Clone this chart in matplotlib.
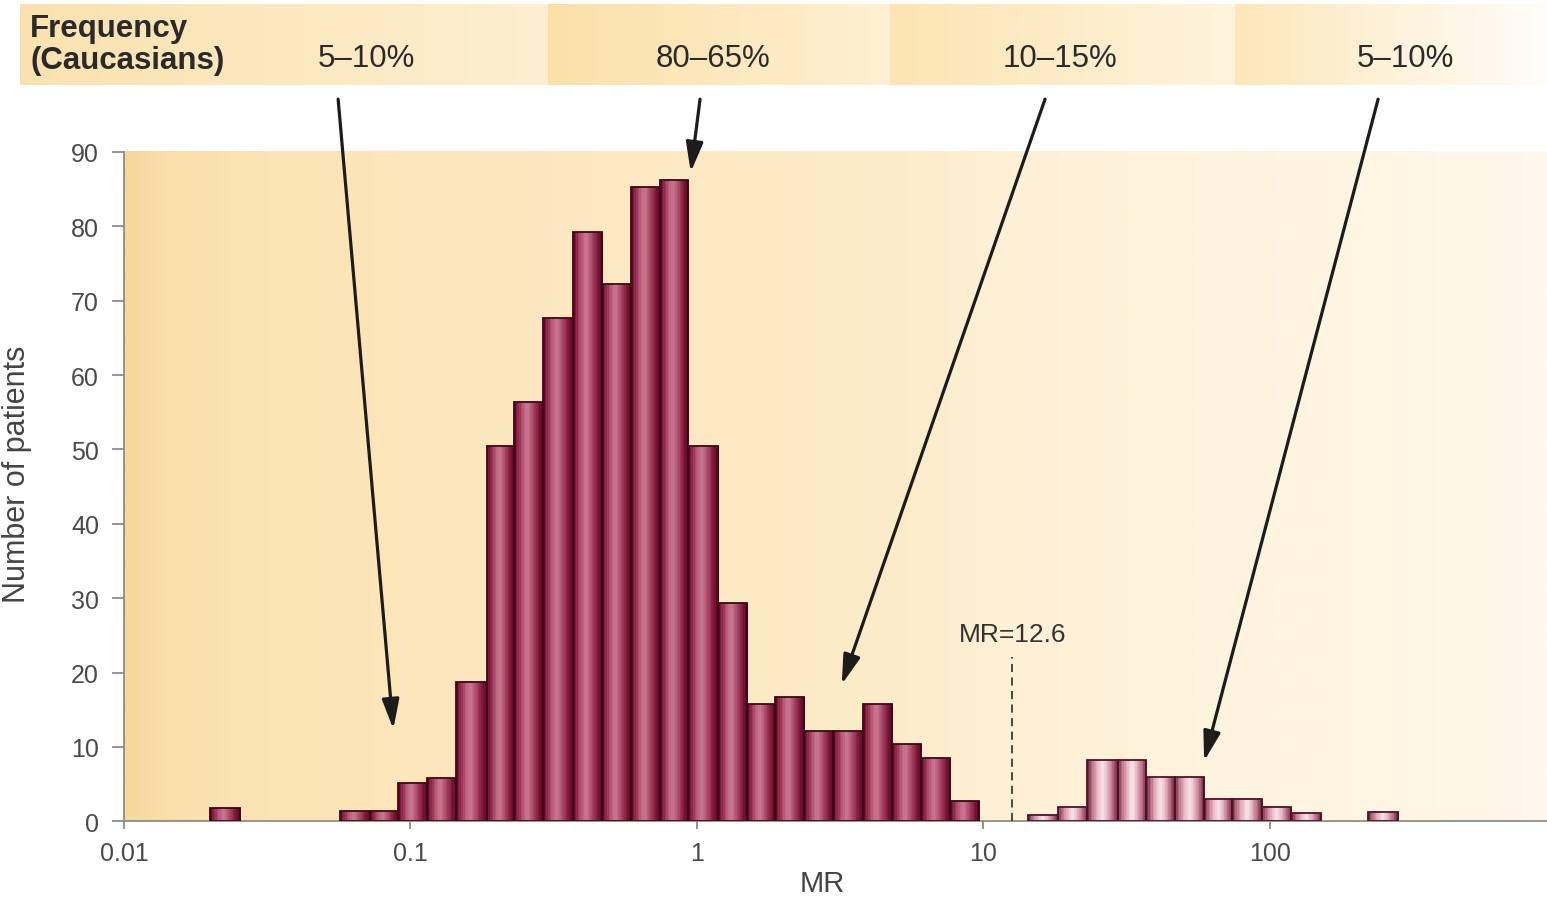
import numpy as np
import matplotlib
matplotlib.use("Agg")
import matplotlib.pyplot as plt
from matplotlib.colors import LinearSegmentedColormap
from matplotlib.ticker import FixedLocator, FixedFormatter, NullLocator

plt.rcParams['font.family'] = ['Liberation Sans', 'DejaVu Sans']

# ---------------- data ----------------
freq_title = "Frequency\n(Caucasians)"
freq_labels = ["5–10%", "80–65%", "10–15%", "5–10%"]

x_tick_values = [0.01, 0.1, 1, 10, 100]
x_tick_labels = ["0.01", "0.1", "1", "10", "100"]
y_tick_values = [0, 10, 20, 30, 40, 50, 60, 70, 80, 90]

# histogram bins given as log10(MR) edges, with patient counts
low_edges = [-1.700, -1.595]
low_counts = [1.8]
main_edges = [-1.246, -1.141, -1.043, -0.942, -0.841, -0.733, -0.638, -0.537,
              -0.433, -0.331, -0.230, -0.129, -0.031, 0.074, 0.175, 0.273,
              0.374, 0.475, 0.580, 0.681, 0.782, 0.883, 0.985]
main_counts = [1.4, 1.4, 5.1, 5.8, 18.7, 50.4, 56.4, 67.7, 79.3, 72.2, 85.3,
               86.3, 50.4, 29.3, 15.8, 16.7, 12.2, 12.2, 15.8, 10.4, 8.5, 2.7]
high_edges = [1.155, 1.259, 1.362, 1.468, 1.569, 1.667, 1.770, 1.868, 1.971,
              2.075, 2.178]
high_counts = [0.8, 1.9, 8.2, 8.2, 6.0, 6.0, 3.0, 3.0, 1.9, 1.1]
far_edges = [2.342, 2.446]
far_counts = [1.2]

threshold_mr = 12.6
threshold_label = "MR=12.6"

# arrows: (MR, count) of the tip, (MR, count) of the tail
arrow_tips = [(0.0871, 12.4), (0.951, 87.3), (3.20, 18.4), (58.9, 8.1)]
arrow_tails = [(0.0559, 97.1), (1.025, 97.1), (16.4, 97.1), (238.5, 97.1)]

# ---------------- layout ----------------
W, H = 1547, 904
fig = plt.figure(figsize=(W / 100, H / 100), dpi=100)

ax_left, ax_right, ax_top, ax_bot = 124, 1547, 153, 822.3
deco = fig.add_axes([0, 0, 1, 1], zorder=0)
deco.set_xlim(0, W)
deco.set_ylim(H, 0)
deco.axis('off')

# plot-area background gradient
bg_cmap = LinearSegmentedColormap.from_list("bg", [
    (0.00, "#F6D89C"), (0.03, "#F9DFAB"), (0.10, "#FBE4B5"),
    (0.30, "#FCE8C0"), (0.55, "#FDECC9"), (0.61, "#FEF0D5"),
    (0.85, "#FEF5E1"), (1.00, "#FFF8EB")])
grad = np.linspace(0, 1, 512)[None, :]
deco.imshow(grad, cmap=bg_cmap, extent=[ax_left, ax_right, ax_bot, ax_top],
            aspect='auto', interpolation='bilinear', zorder=0)

# top banner with gradient segments
banner_top, banner_bot = 5, 86
seg_bounds = [20, 548, 890, 1235, 1547]
seg_colors = [("#FAE2AF", "#FDEFD0"), ("#FBE0A8", "#FEF0D2"),
              ("#FCE4B3", "#FEF4DC"), ("#FCE7BA", "#FFFDF8")]
for (x0, x1), (c0, c1) in zip(zip(seg_bounds[:-1], seg_bounds[1:]), seg_colors):
    cm = LinearSegmentedColormap.from_list("seg", [c0, c1])
    deco.imshow(grad, cmap=cm, extent=[x0, x1, banner_bot, banner_top],
                aspect='auto', interpolation='bilinear', zorder=0)

deco.text(30, 45, freq_title, fontsize=22.5, fontweight='bold', color='#2a2a2a',
          ha='left', va='center', linespacing=1.05)
label_x = [366, 713, 1060, 1405]
for lx, lab in zip(label_x, freq_labels):
    deco.text(lx, 59, lab, fontsize=22.5, color='#2a2a2a', ha='center', va='center')

# ---------------- main axes ----------------
ax = fig.add_axes([ax_left / W, (H - ax_bot) / H, (ax_right - ax_left) / W,
                   (ax_bot - ax_top) / H], zorder=1)
ax.patch.set_alpha(0)
ax.set_xscale('log')
ax.set_xlim(0.01, 10 ** 2.967)
ax.set_ylim(0, 90)

dark_stops = [(0.0, "#52001E"), (0.10, "#85193F"), (0.30, "#B85878"),
              (0.45, "#C77792"), (0.62, "#AE4C6E"), (0.85, "#7C0F35"),
              (1.0, "#4E001B")]
pink_stops = [(0.0, "#5E1A33"), (0.12, "#B0607A"), (0.30, "#E2AABB"),
              (0.50, "#F8E8EE"), (0.70, "#E0A6B8"), (0.88, "#AA5673"),
              (1.0, "#5E1A33")]


def shaded_bars(edges, counts, stops, outline, n=18):
    cmap = LinearSegmentedColormap.from_list("bar", stops)
    edges = np.asarray(edges, dtype=float)
    counts = np.asarray(counts, dtype=float)
    cols = cmap((np.arange(n) + 0.5) / n)
    for lo, hi, h in zip(edges[:-1], edges[1:], counts):
        sub = np.linspace(lo, hi, n + 1)
        x0 = 10 ** sub[:-1]
        x1 = 10 ** sub[1:]
        ax.bar(x0, h, width=x1 - x0, align='edge', color=cols, edgecolor=cols,
               linewidth=0.4, zorder=2)
    lefts = 10 ** edges[:-1]
    rights = 10 ** edges[1:]
    ax.bar(lefts, counts, width=rights - lefts, align='edge', fill=False,
           edgecolor=outline, linewidth=1.3, zorder=3)


shaded_bars(low_edges, low_counts, dark_stops, "#3A0716")
shaded_bars(main_edges, main_counts, dark_stops, "#3A0716")
shaded_bars(high_edges, high_counts, pink_stops, "#4A1426")
shaded_bars(far_edges, far_counts, pink_stops, "#4A1426")

# threshold line
ax.plot([threshold_mr, threshold_mr], [0, 22.1], color='#3a3a3a', lw=1.3,
        linestyle=(0, (4.5, 3)), zorder=4)
ax.text(threshold_mr, 25.2, threshold_label, fontsize=19, color='#333333',
        ha='center', va='center')

# arrows
for tip, tail in zip(arrow_tips, arrow_tails):
    ax.annotate("", xy=tip, xytext=tail, annotation_clip=False,
                arrowprops=dict(arrowstyle='-|>,head_length=0.9,head_width=0.26',
                                mutation_scale=20, lw=2.3, color='#1c1c1c',
                                shrinkA=0, shrinkB=0), zorder=5)

# axes styling
for s in ['top', 'right']:
    ax.spines[s].set_visible(False)
for s in ['left', 'bottom']:
    ax.spines[s].set_color('#8a8378')
    ax.spines[s].set_linewidth(1.2)

ax.xaxis.set_major_locator(FixedLocator(x_tick_values))
ax.xaxis.set_major_formatter(FixedFormatter(x_tick_labels))
ax.xaxis.set_minor_locator(NullLocator())
ax.set_yticks(y_tick_values)
ax.tick_params(axis='x', direction='out', length=6, width=1.1, color='#777777',
               labelsize=18, labelcolor='#4a4a4a', pad=8)
ax.tick_params(axis='y', direction='out', length=9, width=1.1, color='#777777',
               labelsize=18, labelcolor='#4a4a4a', pad=9)

ax.set_xlabel("MR", fontsize=21, color='#444444', va='center')
ax.xaxis.set_label_coords((822 - ax_left) / (ax_right - ax_left),
                          -(884 - ax_bot) / (ax_bot - ax_top))
ax.set_ylabel("Number of patients", fontsize=22, color='#444444')
ax.yaxis.set_label_coords(-0.065, 0.52)

fig.savefig("out.png", dpi=100)
